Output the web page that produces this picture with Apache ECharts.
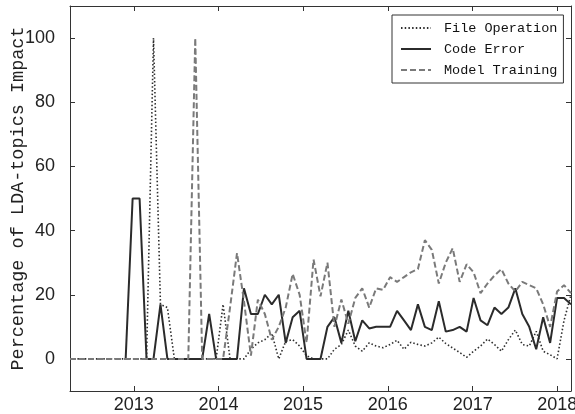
<!DOCTYPE html>
<html>
<head>
<meta charset="utf-8">
<script src="https://cdn.jsdelivr.net/npm/echarts@6/dist/echarts.min.js"></script>
<style>
  html, body { margin: 0; padding: 0; background: #fff; }
  #chart { width: 575px; height: 414px; }
</style>
</head>
<body>
<div id="chart"></div>
<script>
// Topic shares are aggregated over consecutive 30-day windows from 2012-04-01 to 2018-03-01
const windowStart = '2012-04-01';
const windowDays = 30;
const windowCount = 73;

// Share of posts per LDA topic (%), one value per window
const fileOperation = [
  0,0,0,0,0,0,0,0,0,0,0,0,
  100,17,16,0,0,0,0,0,0,0,17,0,
  0,0,3,5,6,8,0,5.5,6,4,1,0,
  0,0,3,4.5,9,4,2.4,5,4,3.5,4.5,5.8,
  3,5.2,4.5,4,5,6.8,4.8,3.4,2,0.5,2.4,4,
  6.2,4.5,2.4,6,9,4.5,4,8.6,2.4,1.3,0,12,
  20
];
const codeError = [
  null,null,null,null,null,null,null,null,0,50,50,0,
  0,17,0,0,0,0,0,0,14,0,0,0,
  0,22,14,14,20,17,20,5,13,15,0,0,
  0,10,13,5,15,5.5,12,9.5,10,10,10,15,
  12,9,17,10,9,18,8.5,9,10,8.5,19,12,
  10.5,16,14,16,22,14,10,3,13,5,19,19,
  17
];
const modelTraining = [
  0,0,0,0,0,0,0,0,0,0,0,0,
  0,0,0,0,0,0,100,0,0,0,0,16,
  33,18,1,18.5,14,6,10,16,26.5,20,5,31,
  19.5,30,10,18.5,11,19,22,16,22,21.5,25.5,24,
  25.5,27,28,37,34,23.5,30,34.5,24,29.5,27,20.5,
  23.5,26,28,23.5,21,24,23,22,17,10,21,23,
  20.5
];

const yearTicks = ['2013','2014','2015','2016','2017','2018'];
const yTicks = [0, 20, 40, 60, 80, 100];

const DAY = 86400000;
const toTime = s => { const p = s.split('-').map(Number); return Date.UTC(p[0], (p[1] || 1) - 1, p[2] || 1); };
const windowTimes = Array.from({ length: windowCount }, (_, k) => toTime(windowStart) + k * windowDays * DAY);
const pairs = vals => windowTimes.map((t, i) => [t, vals[i] == null ? '-' : vals[i]]);

const tickFont = "'Liberation Sans',Arial,sans-serif";
const monoFont = "'Liberation Mono','DejaVu Sans Mono',monospace";
const frame = '#333333';

const xMin = windowTimes[0];
const xMax = windowTimes[windowTimes.length - 1];
const xTickVals = yearTicks.map(y => toTime(y + '-01-01'));

// Linear time scale in milliseconds, labelled by year
function xAxisDef(position, labels) {
  return {
    type: 'value', position, min: xMin, max: xMax,
    axisLine: { show: true, onZero: false, lineStyle: { color: frame, width: 1 } },
    axisTick: { show: true, inside: true, length: 5, customValues: xTickVals, lineStyle: { color: frame } },
    axisLabel: {
      show: labels, customValues: xTickVals, margin: 5,
      formatter: v => String(new Date(v).getUTCFullYear()),
      fontFamily: tickFont, fontSize: 18, color: '#222'
    },
    splitLine: { show: false }
  };
}
function yAxisDef(position, labels) {
  const ax = {
    type: 'value', position, min: -10, max: 110,
    axisLine: { show: true, onZero: false, lineStyle: { color: frame, width: 1 } },
    axisTick: { show: true, inside: true, length: 5, customValues: yTicks, lineStyle: { color: frame } },
    axisLabel: {
      show: labels, customValues: yTicks, margin: 15,
      fontFamily: tickFont, fontSize: 18, color: '#222'
    },
    splitLine: { show: false }
  };
  if (labels) {
    ax.name = 'Percentage of LDA-topics Impact';
    ax.nameLocation = 'middle';
    ax.nameGap = 42;
    ax.nameMoveOverlap = false;
    ax.nameTextStyle = { fontFamily: monoFont, fontSize: 18.5, color: '#222' };
  }
  return ax;
}

const chart = echarts.init(document.getElementById('chart'), null, { renderer: 'canvas' });
chart.setOption({
  animation: false,
  backgroundColor: '#fff',
  grid: { left: 70, right: 4, top: 6, bottom: 23, containLabel: false, outerBoundsMode: 'none' },
  xAxis: [xAxisDef('bottom', true), xAxisDef('top', false)],
  yAxis: [yAxisDef('left', true), yAxisDef('right', false)],
  legend: {
    orient: 'vertical', left: 392, top: 15,
    padding: [6, 6, 6, 8], itemGap: 7, itemWidth: 30, itemHeight: 14,
    borderColor: frame, borderWidth: 1, borderRadius: 0, backgroundColor: '#fff',
    itemStyle: { opacity: 0 },
    textStyle: { fontFamily: monoFont, fontSize: 13.5, color: '#111', padding: [0, 0, 0, 8] },
    data: ['File Operation', 'Code Error', 'Model Training']
  },
  series: [
    {
      name: 'File Operation', type: 'line', data: pairs(fileOperation),
      symbol: 'none', connectNulls: false,
      lineStyle: { color: '#2e2e2e', width: 1.6, type: [1.5, 2.2] },
      itemStyle: { color: '#2e2e2e' }
    },
    {
      name: 'Code Error', type: 'line', data: pairs(codeError),
      symbol: 'none', connectNulls: false,
      lineStyle: { color: '#2b2b2b', width: 2, type: 'solid' },
      itemStyle: { color: '#2b2b2b' }
    },
    {
      name: 'Model Training', type: 'line', data: pairs(modelTraining),
      symbol: 'none', connectNulls: false,
      lineStyle: { color: '#7a7a7a', width: 2, type: [6, 3] },
      itemStyle: { color: '#7a7a7a' }
    }
  ]
});
</script>
</body>
</html>
